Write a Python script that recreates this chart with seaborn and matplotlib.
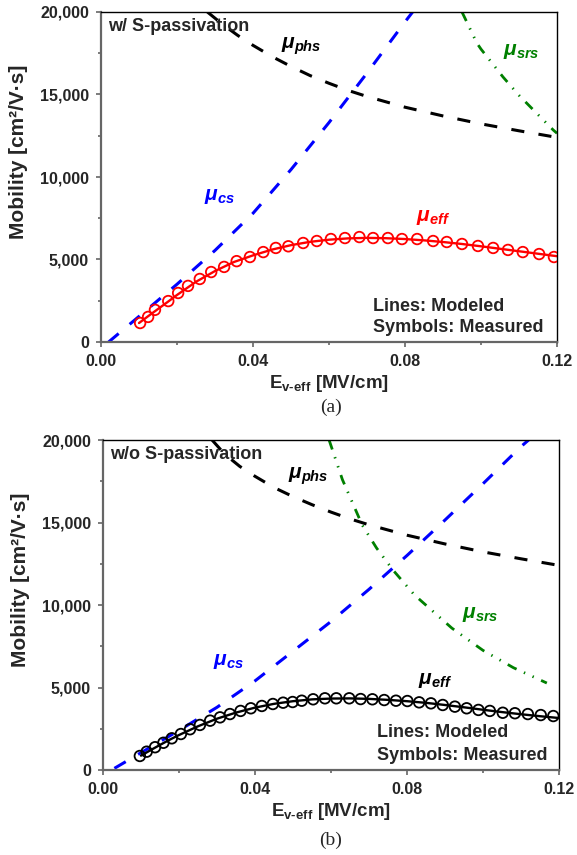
import matplotlib
matplotlib.use("Agg")
import matplotlib.pyplot as plt
import seaborn as sns

# ---------------- data ----------------
x_ticks = [0.0, 0.04, 0.08, 0.12]
x_tick_labels = ["0.00", "0.04", "0.08", "0.12"]
y_ticks = [0, 5000, 10000, 15000, 20000]
y_tick_labels = ["0", "5,000", "10,000", "15,000", "20,000"]

# panel (a): with S-passivation
a_cs_x = [0.002, 0.01, 0.02, 0.03, 0.04, 0.05, 0.06, 0.07, 0.08, 0.082]
a_cs_y = [0, 1550, 3500, 5550, 7800, 10450, 13300, 16300, 19400, 20000]
a_phs_x = [0.028, 0.032, 0.036, 0.04, 0.045, 0.05, 0.055, 0.06, 0.065, 0.07,
           0.08, 0.09, 0.10, 0.11, 0.12]
a_phs_y = [20000, 19250, 18580, 17980, 17300, 16700, 16150, 15680, 15250, 14880,
           14230, 13700, 13220, 12800, 12400]
a_srs_x = [0.095, 0.0989, 0.10, 0.1058, 0.11, 0.115, 0.119, 0.12]
a_srs_y = [20000, 18120, 17750, 16060, 14950, 13780, 12850, 12650]
a_eff_x = [0.010, 0.0125, 0.015, 0.0175, 0.02, 0.025, 0.03, 0.035, 0.04, 0.045,
           0.05, 0.055, 0.06, 0.065, 0.07, 0.075, 0.08, 0.085, 0.09, 0.095,
           0.10, 0.105, 0.11, 0.115, 0.12]
a_eff_y = [1150, 1580, 2000, 2420, 2850, 3650, 4300, 4850, 5250, 5600,
           5870, 6070, 6200, 6280, 6310, 6290, 6240, 6160, 6060, 5940,
           5800, 5650, 5500, 5350, 5200]
a_meas_x = [0.0103, 0.0124, 0.0142, 0.0177, 0.0203, 0.0229, 0.0260, 0.0290, 0.0324,
            0.0357, 0.0392, 0.0427, 0.0460, 0.0493, 0.0532, 0.0568, 0.0605, 0.0642,
            0.0680, 0.0716, 0.0755, 0.0792, 0.0832, 0.0874, 0.0910, 0.0950, 0.0992,
            0.1032, 0.1071, 0.1110, 0.1153, 0.1192]
a_meas_y = [1150, 1520, 1950, 2480, 2970, 3400, 3820, 4240, 4550,
            4900, 5150, 5450, 5700, 5800, 6000, 6120, 6240, 6300,
            6360, 6300, 6300, 6240, 6240, 6120, 6060, 5940, 5820,
            5700, 5580, 5450, 5330, 5150]

# panel (b): without S-passivation
b_cs_x = [0.003, 0.01, 0.02, 0.03, 0.04, 0.05, 0.06, 0.07, 0.08, 0.09, 0.10, 0.11, 0.112]
b_cs_y = [100, 1050, 2400, 3800, 5400, 7200, 9000, 10950, 13000, 15150, 17350, 19600, 20000]
b_phs_x = [0.0287, 0.032, 0.036, 0.04, 0.045, 0.05, 0.055, 0.06, 0.065, 0.07,
           0.08, 0.09, 0.10, 0.11, 0.12]
b_phs_y = [20000, 19150, 18400, 17800, 17120, 16570, 16080, 15630, 15220, 14860,
           14230, 13700, 13220, 12800, 12400]
b_srs_x = [0.0595, 0.063, 0.0682, 0.072, 0.0763, 0.082, 0.0918, 0.100, 0.108, 0.1168]
b_srs_y = [20000, 17600, 14850, 13450, 12120, 10600, 8600, 7250, 6200, 5270]
b_eff_x = [0.010, 0.0125, 0.015, 0.0175, 0.02, 0.025, 0.03, 0.035, 0.04, 0.045,
           0.05, 0.055, 0.06, 0.065, 0.07, 0.075, 0.08, 0.085, 0.09, 0.095,
           0.10, 0.105, 0.11, 0.115, 0.12]
b_eff_y = [870, 1200, 1520, 1830, 2120, 2650, 3110, 3480, 3780, 4010,
           4170, 4280, 4330, 4340, 4310, 4250, 4170, 4070, 3940, 3800,
           3650, 3510, 3380, 3260, 3150]
b_meas_x = [0.0097, 0.0115, 0.0137, 0.0159, 0.0181, 0.0205, 0.0229, 0.0255, 0.0282,
            0.0308, 0.0334, 0.0362, 0.0389, 0.0418, 0.0447, 0.0474, 0.0499, 0.0523,
            0.0553, 0.0584, 0.0614, 0.0648, 0.0678, 0.0709, 0.0740, 0.0771, 0.0801,
            0.0832, 0.0863, 0.0894, 0.0926, 0.0957, 0.0988, 0.1018, 0.1052, 0.1084,
            0.1118, 0.1152, 0.1185]
b_meas_y = [850, 1110, 1380, 1650, 1920, 2180, 2470, 2730, 2990,
            3190, 3390, 3580, 3740, 3880, 4000, 4080, 4120, 4200,
            4285, 4345, 4345, 4345, 4300, 4285, 4240, 4200, 4180,
            4100, 4040, 3940, 3840, 3740, 3640, 3580, 3470, 3440,
            3390, 3330, 3270]

# ---------------- style ----------------
sns.set_theme(style="ticks")
plt.rcParams["font.family"] = ["Liberation Sans", "DejaVu Sans"]
plt.rcParams["mathtext.fontset"] = "custom"
plt.rcParams["mathtext.rm"] = "Liberation Sans:bold"
plt.rcParams["mathtext.it"] = "Liberation Sans:italic:bold"
plt.rcParams["mathtext.bf"] = "Liberation Sans:bold"

BLUE = "#0000FF"
GREEN = "#008000"
RED = "#FF0000"
DASH = (0, (4.3, 4.7))
DASHDOTDOT = (0, (3.6, 2.9, 0.5, 2.9, 0.5, 2.9))

W, H = 577, 855
fig = plt.figure(figsize=(W / 100, H / 100), dpi=100)
ax1 = fig.add_axes([101 / W, (H - 342) / H, 456 / W, 330 / H])
ax2 = fig.add_axes([103 / W, (H - 770) / H, 456 / W, 330 / H])


def style_axes(ax):
    ax.set_xlim(0, 0.12)
    ax.set_ylim(0, 20000)
    ax.set_xticks(x_ticks)
    ax.set_xticklabels(x_tick_labels, fontweight="bold")
    ax.set_yticks(y_ticks)
    ax.set_yticklabels(y_tick_labels, fontweight="bold")
    ax.set_xticks([0.02, 0.06, 0.10], minor=True)
    ax.set_yticks([2500, 7500, 12500, 17500], minor=True)
    ax.tick_params(which="both", direction="out", color="#666666", width=1.2,
                   bottom=True, left=True, top=False, right=False)
    ax.tick_params(which="major", length=3.6, labelsize=11.5, pad=5)
    ax.tick_params(which="minor", length=2.2)
    for s in ("left", "bottom"):
        ax.spines[s].set_color("#666666")
        ax.spines[s].set_linewidth(1.6)
    for s in ("top", "right"):
        ax.spines[s].set_color("black")
        ax.spines[s].set_linewidth(1.0)
    ax.set_xlabel("")
    ax.set_ylabel("")
    ax.text(-0.182, 0.576, "Mobility [cm²/V·s]", transform=ax.transAxes,
            rotation=90, ha="center", va="center", fontsize=15, fontweight="bold")
    ax.text(0.5, -0.125, r"E$_{\mathrm{v‐eff}}$ [MV/cm]", transform=ax.transAxes,
            ha="center", va="center", fontsize=13.5, fontweight="bold")


def draw_panel(ax, cs, phs, srs, eff, meas, mcolor):
    sns.lineplot(x=cs[0], y=cs[1], ax=ax, color=BLUE, lw=2.2, linestyle=DASH,
                 sort=False, estimator=None)
    sns.lineplot(x=phs[0], y=phs[1], ax=ax, color="black", lw=2.2, linestyle=DASH,
                 sort=False, estimator=None)
    sns.lineplot(x=srs[0], y=srs[1], ax=ax, color=GREEN, lw=2.0, linestyle=DASHDOTDOT,
                 sort=False, estimator=None)
    sns.lineplot(x=eff[0], y=eff[1], ax=ax, color=mcolor, lw=1.7,
                 sort=False, estimator=None)
    sns.scatterplot(x=meas[0], y=meas[1], ax=ax, marker="o", s=58,
                    facecolor="none", edgecolor=mcolor, linewidth=1.3, zorder=3)


draw_panel(ax1, (a_cs_x, a_cs_y), (a_phs_x, a_phs_y), (a_srs_x, a_srs_y),
           (a_eff_x, a_eff_y), (a_meas_x, a_meas_y), RED)
draw_panel(ax2, (b_cs_x, b_cs_y), (b_phs_x, b_phs_y), (b_srs_x, b_srs_y),
           (b_eff_x, b_eff_y), (b_meas_x, b_meas_y), "black")
style_axes(ax1)
style_axes(ax2)

lab = dict(fontsize=15, va="center", ha="left")
ann = dict(fontsize=13, fontweight="bold", va="center", ha="left")

# panel (a) texts
ax1.text(0.0018, 19150, "w/ S-passivation", **ann)
ax1.text(0.0474, 17950, r"$\mu_{phs}$", color="black", **lab)
ax1.text(0.1058, 17600, r"$\mu_{srs}$", color=GREEN, **lab)
ax1.text(0.0272, 8800, r"$\mu_{cs}$", color=BLUE, **lab)
ax1.text(0.0829, 7550, r"$\mu_{eff}$", color=RED, **lab)
ax1.text(0.0716, 2180, "Lines: Modeled", **ann)
ax1.text(0.0716, 850, "Symbols: Measured", **ann)

# panel (b) texts
ax2.text(0.0018, 19100, "w/o S-passivation", **ann)
ax2.text(0.0488, 17780, r"$\mu_{phs}$", color="black", **lab)
ax2.text(0.0945, 9450, r"$\mu_{srs}$", color=GREEN, **lab)
ax2.text(0.0289, 6600, r"$\mu_{cs}$", color=BLUE, **lab)
ax2.text(0.0829, 5400, r"$\mu_{eff}$", color="black", **lab)
ax2.text(0.0721, 2250, "Lines: Modeled", **ann)
ax2.text(0.0721, 850, "Symbols: Measured", **ann)

fig.text(331 / W, 1 - 407 / H, "(a)", ha="center", va="center",
         family="Liberation Serif", fontsize=14)
fig.text(331 / W, 1 - 840 / H, "(b)", ha="center", va="center",
         family="Liberation Serif", fontsize=14)

fig.savefig("out.png", dpi=100)
